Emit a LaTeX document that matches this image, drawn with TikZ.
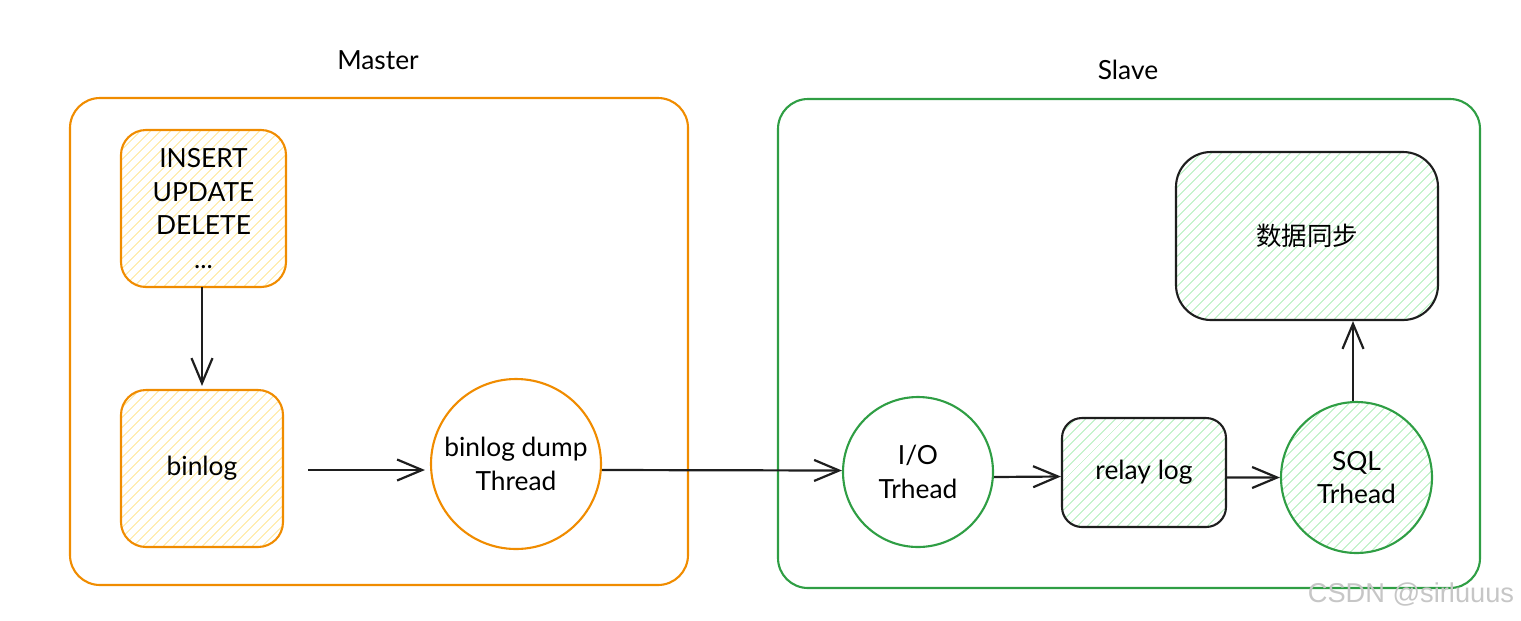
\documentclass[tikz,border=0pt]{standalone}
\usepackage{fontspec}
\setmainfont{Lato}
\newfontfamily\cjk{Noto Sans CJK SC}
\usetikzlibrary{arrows.meta,positioning,patterns.meta}

\definecolor{masterc}{HTML}{F08C00}
\definecolor{slavec}{HTML}{2F9E44}
\definecolor{inkc}{HTML}{1E1E1E}
\definecolor{hatchy}{HTML}{FFE38A}
\definecolor{hatchg}{HTML}{A8ECB2}

\begin{document}
\begin{tikzpicture}[
  font=\fontsize{15}{19}\selectfont,
  group/.style={draw, line width=1.2pt, rounded corners=0.6cm, minimum width=#1},
  hatch/.style={pattern={Lines[angle=45,distance=4pt,line width=0.55pt]}, pattern color=#1},
  opbox/.style={draw=masterc, line width=1.2pt, rounded corners=0.5cm, align=center, hatch=hatchy},
  thread/.style={circle, line width=1.2pt, align=center, inner sep=0pt},
  flow/.style={-{Straight Barb[length=0.5cm,width=0.42cm]}, line width=1.25pt, draw=inkc},
  title/.style={font=\fontsize{15}{19}\selectfont}
]
\useasboundingbox (0,0) rectangle (30.42,-12.4);

% two machines
\node[group=12.36cm, draw=masterc, minimum height=9.74cm] (master) at (7.58,-6.83) {};
\node[group=14.04cm, draw=slavec, minimum height=9.78cm] (slave) at (22.58,-6.87) {};
\node[title] (mastertitle) at (7.56,-1.20) {Master};
\node[title] (slavetitle) at (22.56,-1.40) {Slave};

% master side
\node[opbox, minimum width=3.30cm, minimum height=3.14cm] (ops) at (4.07,-4.17) {INSERT\\UPDATE\\DELETE\\...};
\node[opbox, minimum width=3.24cm, minimum height=3.14cm] (binlog) at (4.04,-9.37) {binlog};
\node[thread, draw=masterc, fill=white, minimum size=3.40cm] (dump) at (10.32,-9.28) {binlog dump\\Thread};

% slave side
\node[thread, draw=slavec, fill=white, minimum size=3.00cm] (io) at (18.36,-9.44) {I/O\\Trhead};
\node[draw=inkc, line width=1.2pt, rounded corners=0.4cm, hatch=hatchg, minimum width=3.28cm, minimum height=2.18cm] (relay) at (22.88,-9.45) {relay log};
\node[thread, draw=slavec, hatch=hatchg, minimum size=3.02cm] (sqlth) at (27.13,-9.55) {SQL\\Trhead};
\node[draw=inkc, line width=1.2pt, rounded corners=0.7cm, hatch=hatchg, minimum width=5.24cm, minimum height=3.36cm] (sync) at (26.14,-4.72) {\cjk\fontsize{14.5}{18}\selectfont 数据同步};

% connectors
\draw[flow, shorten >=0.06cm] (binlog.north |- ops.south) -- (binlog.north);
\draw[flow, shorten <=0.48cm, shorten >=0.1cm] (binlog.east) ++(0,-0.03) -- ([yshift=-0.03cm]binlog.east -| dump.west);
\draw[flow] ([yshift=-0.12cm]dump.east) -- ([yshift=0.03cm]io.west);
\draw[flow] ([yshift=-0.1cm]io.east) -- ([yshift=-0.08cm]relay.west);
\draw[flow] ([yshift=-0.1cm]relay.east) -- (sqlth.west);
\draw[flow] ([xshift=-0.07cm]sqlth.north) -- ([xshift=-0.07cm]sqlth.north |- sync.south);

\node[text=gray!45, font=\fontspec{Liberation Sans}\fontsize{15.5}{18}\selectfont] (mark) at (28.22,-11.88) {CSDN @sirluuus};
\end{tikzpicture}
\end{document}
